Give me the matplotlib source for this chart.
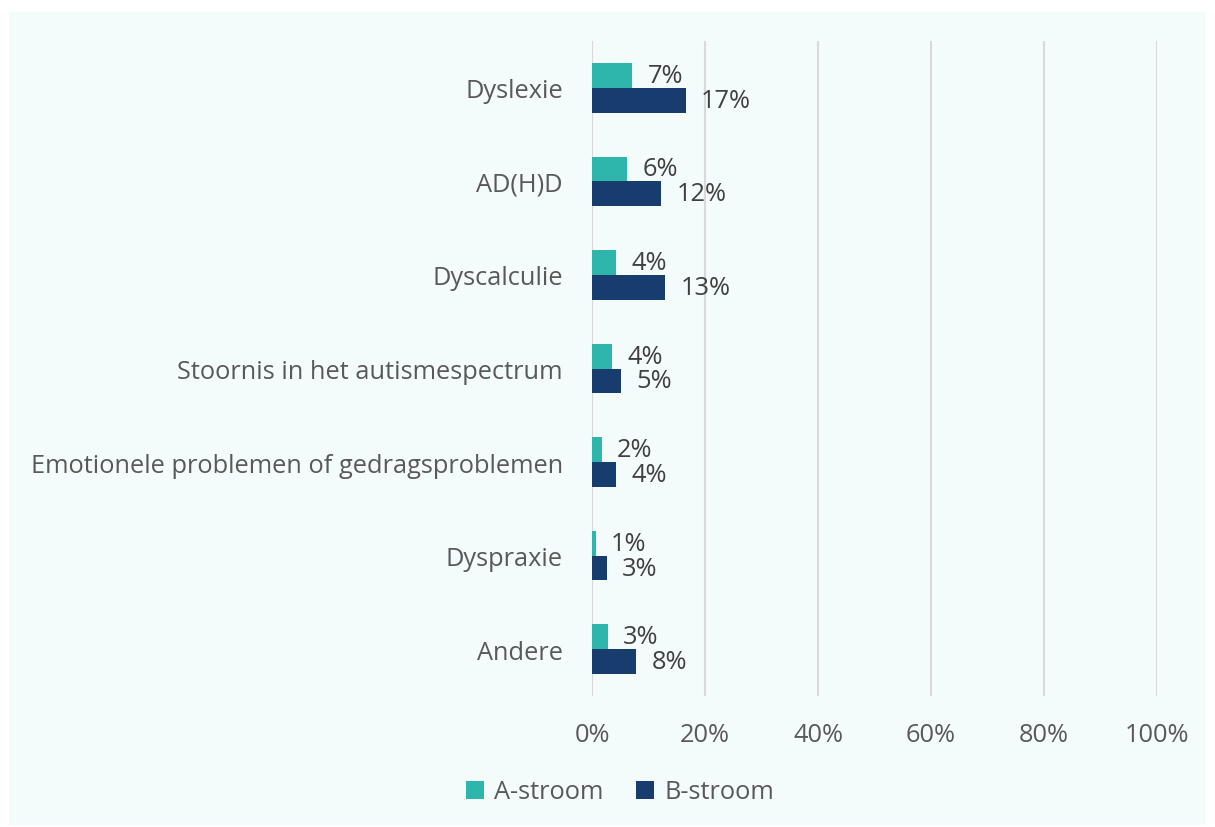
import matplotlib.pyplot as plt
from matplotlib.patches import Rectangle
import numpy as np

# Data
categories = ['Dyslexie', 'AD(H)D', 'Dyscalculie', 'Stoornis in het autismespectrum',
              'Emotionele problemen of gedragsproblemen', 'Dyspraxie', 'Andere']
a_stroom = [7.1, 6.2, 4.3, 3.6, 1.7, 0.7, 2.8]
b_stroom = [16.6, 12.3, 13.0, 5.2, 4.3, 2.6, 7.8]
series_names = ['A-stroom', 'B-stroom']
ticks = [0, 20, 40, 60, 80, 100]

teal = '#2EB5AC'
navy = '#163D6E'
txt = '#404040'
fs = 18.3

plt.rcParams['font.family'] = ['Open Sans', 'DejaVu Sans']

fig = plt.figure(figsize=(12.15, 8.28), dpi=100)
fig.patch.set_facecolor('white')
fig.patches.append(Rectangle((9 / 1215, 1 - 826 / 828), 1196 / 1215, 813 / 828,
                             transform=fig.transFigure, facecolor='#F4FCFB',
                             edgecolor='none', zorder=-10))

ax = fig.add_axes([592 / 1215, 1 - 697 / 828, 565 / 1215, 655 / 828])
ax.set_facecolor('none')

y = np.arange(len(categories))
h = 0.265
ax.barh(y - h / 2, a_stroom, height=h, color=teal, label=series_names[0], zorder=3)
ax.barh(y + h / 2, b_stroom, height=h, color=navy, label=series_names[1], zorder=3)

for i in range(len(categories)):
    ax.annotate(f'{round(a_stroom[i])}%', (a_stroom[i], y[i] - h / 2), xytext=(11, 0),
                textcoords='offset points', va='center', ha='left', fontsize=fs, color=txt)
    ax.annotate(f'{round(b_stroom[i])}%', (b_stroom[i], y[i] + h / 2), xytext=(11, 0),
                textcoords='offset points', va='center', ha='left', fontsize=fs, color=txt)

ax.set_xlim(0, 100)
ax.set_ylim(len(categories) - 0.5, -0.5)
ax.set_xticks(ticks)
ax.set_xticklabels([f'{t}%' for t in ticks])
ax.set_yticks(y)
ax.set_yticklabels(categories)
ax.tick_params(axis='both', length=0, labelsize=fs, labelcolor='#595959')
ax.tick_params(axis='x', pad=19)
ax.tick_params(axis='y', pad=21)
ax.grid(axis='x', color='#D9D9D9', linewidth=1.5, zorder=0)
for s in ax.spines.values():
    s.set_visible(False)

leg = fig.legend(loc='center', bbox_to_anchor=(620 / 1215, 1 - 793 / 828), ncol=2,
                 frameon=False, fontsize=fs, handlelength=0.7, handleheight=0.7,
                 columnspacing=1.3, handletextpad=0.4)
for t in leg.get_texts():
    t.set_color('#595959')

fig.savefig('out.png', dpi=100)
